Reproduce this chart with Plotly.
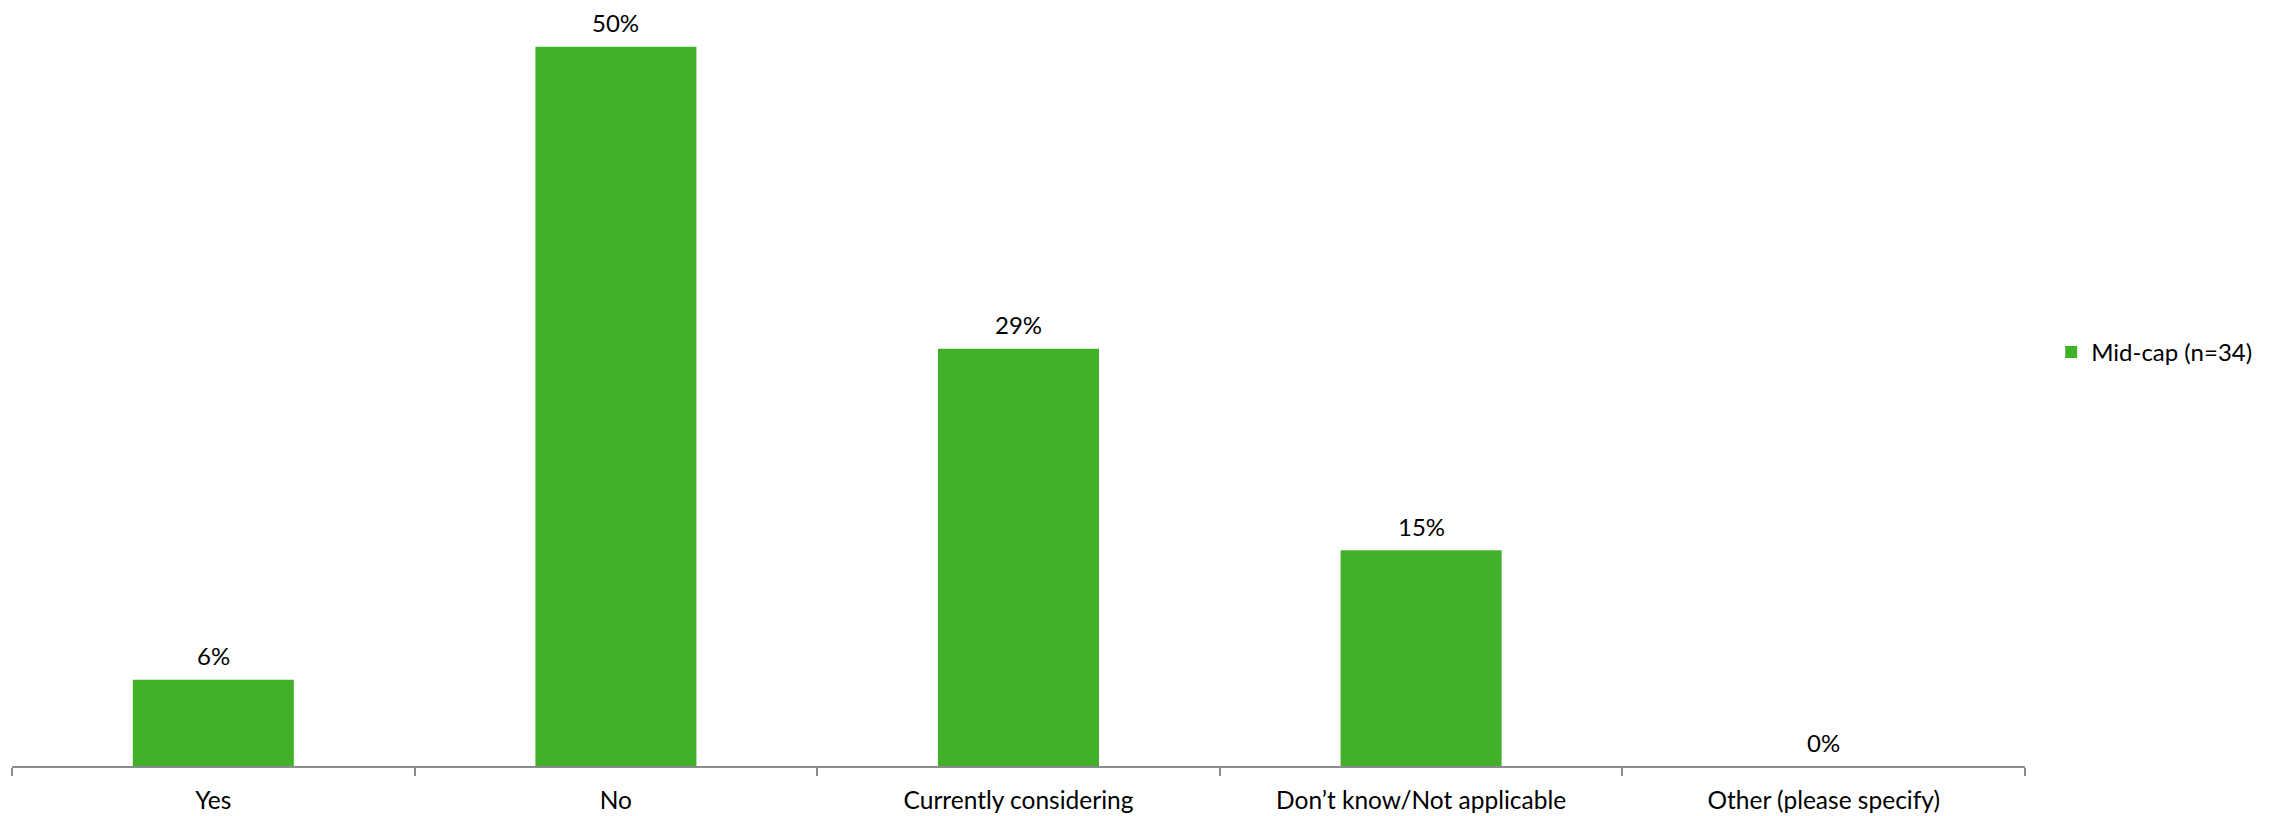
import plotly.graph_objects as go

categories = ["Yes", "No", "Currently considering", "Don\u2019t know/Not applicable", "Other (please specify)"]
values = [6, 50, 29, 15, 0]
labels = ["6%", "50%", "29%", "15%", "0%"]
series_name = "Mid-cap (n=34)"

FONT = "Lato, 'Open Sans', sans-serif"

fig = go.Figure()
fig.add_trace(go.Bar(
    x=categories, y=values, name=series_name,
    marker=dict(color="#43B02A", line=dict(width=0)),
    showlegend=True,
))

for c, v, t in zip(categories, values, labels):
    fig.add_annotation(x=c, y=v, text=t, showarrow=False, yanchor="middle",
                       yshift=24, borderpad=0,
                       font=dict(family=FONT, size=24, color="#000000"))

fig.update_layout(
    width=2285, height=816,
    margin=dict(l=4, r=268, t=10, b=58),
    paper_bgcolor="white", plot_bgcolor="white",
    bargap=0.6,
    font=dict(family=FONT, color="#000000"),
    showlegend=True,
    legend=dict(x=1.013, xanchor="left", y=0.553, yanchor="middle",
                font=dict(family=FONT, size=24, color="#000000"),
                bgcolor="rgba(0,0,0,0)"),
    xaxis=dict(
        showline=True, linecolor="#8c8c8c", linewidth=2,
        ticks="outside", tickson="boundaries", ticklen=8, tickcolor="#8c8c8c", tickwidth=2,
        tickfont=dict(family=FONT, size=24.5, color="#000000"),
        ticklabelstandoff=12,
        showgrid=False, zeroline=False,
    ),
    yaxis=dict(range=[0, 52], visible=False, showgrid=False, zeroline=False),
)

fig.write_html("out.html")
